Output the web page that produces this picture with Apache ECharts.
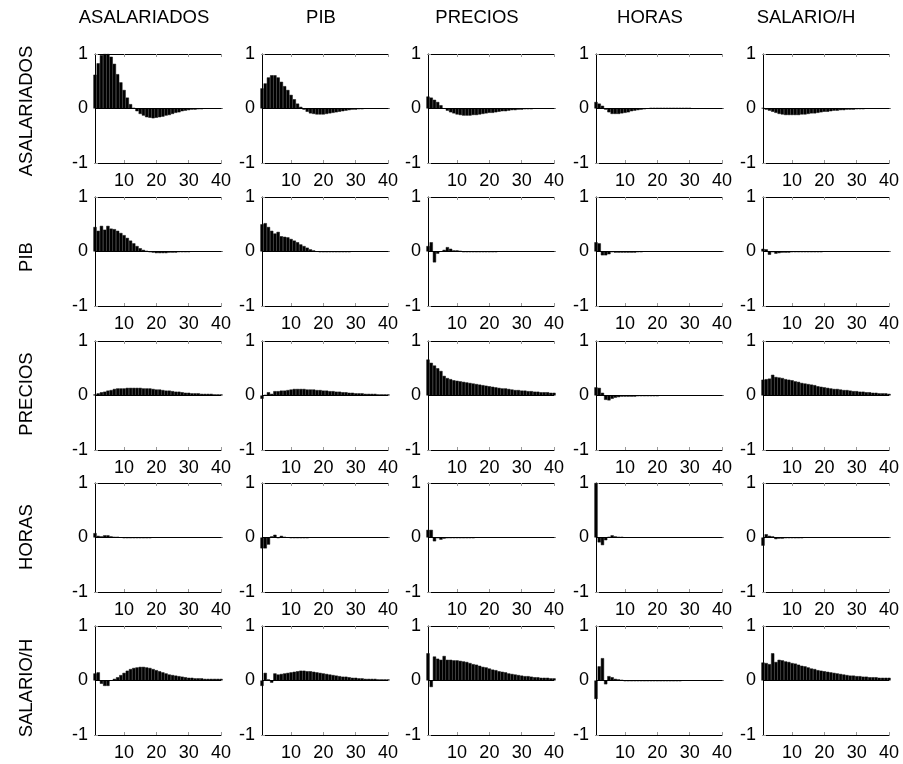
<!DOCTYPE html>
<html>
<head>
<meta charset="utf-8">
<script src="https://cdn.jsdelivr.net/npm/echarts@6/dist/echarts.min.js"></script>
<style>
  html, body { margin: 0; padding: 0; background: #fff; }
  #chart { width: 903px; height: 764px; }
</style>
</head>
<body>
<div id="chart"></div>
<script>
// * 5x5 impulse responses (rows = response, columns = shock)

const variables = ['ASALARIADOS', 'PIB', 'PRECIOS', 'HORAS', 'SALARIO/H']
const xTicks = [10, 20, 30, 40]
const yTicks = [-1, 0, 1]

// ? fila ASALARIADOS
const asal_asal = [0.62,0.83,0.98,1.0,1.0,0.95,0.82,0.63,0.48,0.34,0.2,0.08,0.01,-0.05,-0.1,-0.13,-0.16,-0.17,-0.18,-0.17,-0.16,-0.15,-0.13,-0.12,-0.1,-0.08,-0.07,-0.05,-0.04,-0.03,-0.02,-0.02,-0.01,-0.01,0,0,0,0,0,0]
const asal_pib = [0.37,0.46,0.57,0.61,0.61,0.57,0.49,0.41,0.34,0.25,0.17,0.09,0.03,-0.02,-0.06,-0.09,-0.1,-0.11,-0.11,-0.11,-0.1,-0.09,-0.08,-0.07,-0.06,-0.05,-0.04,-0.03,-0.02,-0.02,-0.01,-0.01,0,0,0,0,0,0,0,0]
const asal_prec = [0.22,0.2,0.16,0.12,0.06,0.0,-0.04,-0.07,-0.09,-0.11,-0.12,-0.13,-0.13,-0.13,-0.12,-0.12,-0.11,-0.1,-0.09,-0.08,-0.08,-0.07,-0.06,-0.05,-0.05,-0.04,-0.03,-0.03,-0.02,-0.02,-0.01,-0.01,-0.01,0,0,0,0,0,0,0]
const asal_hor = [0.12,0.09,0.05,-0.02,-0.07,-0.1,-0.1,-0.1,-0.09,-0.08,-0.07,-0.05,-0.04,-0.03,-0.02,-0.01,0,0.01,0.01,0.01,0.01,0.01,0.01,0.01,0.01,0.01,0.01,0.01,0.01,0.01,0,0,0,0,0,0,0,0,0,0]
const asal_sal = [0.01,-0.02,-0.04,-0.06,-0.08,-0.1,-0.11,-0.12,-0.12,-0.12,-0.12,-0.12,-0.11,-0.11,-0.1,-0.09,-0.09,-0.08,-0.07,-0.06,-0.06,-0.05,-0.04,-0.04,-0.03,-0.03,-0.02,-0.02,-0.02,-0.01,-0.01,-0.01,0,0,0,0,0,0,0,0]

// ? fila PIB
const pib_asal = [0.45,0.38,0.47,0.4,0.47,0.42,0.41,0.38,0.34,0.3,0.25,0.2,0.15,0.1,0.06,0.03,0.01,-0.01,-0.02,-0.03,-0.03,-0.03,-0.03,-0.02,-0.02,-0.02,-0.01,-0.01,-0.01,-0.01,0,0,0,0,0,0,0,0,0,0]
const pib_pib = [0.5,0.52,0.45,0.38,0.33,0.36,0.28,0.27,0.26,0.23,0.2,0.17,0.13,0.1,0.07,0.04,0.02,0,-0.01,-0.01,-0.01,-0.01,-0.01,-0.01,-0.01,-0.01,-0.01,-0.01,0,0,0,0,0,0,0,0,0,0,0,0]
const pib_prec = [0.1,0.17,-0.2,-0.04,0.0,0.03,0.08,0.05,0.02,0.02,0.01,-0.01,-0.01,-0.01,-0.01,-0.01,-0.01,-0.01,-0.01,-0.01,-0.01,-0.01,0,0,0,0,0,0,0,0,0,0,0,0,0,0,0,0,0,0]
const pib_hor = [0.17,0.15,-0.07,-0.07,-0.05,-0.01,-0.02,-0.02,-0.02,-0.02,-0.02,-0.02,-0.02,-0.01,-0.01,0,0,0,0,0,0,0,0,0,0,0,0,0,0,0,0,0,0,0,0,0,0,0,0,0]
const pib_sal = [0.05,0.04,-0.06,-0.01,-0.04,-0.03,-0.02,-0.02,-0.02,-0.01,-0.01,-0.01,-0.01,-0.01,-0.01,-0.01,-0.01,-0.01,-0.01,0,0,0,0,0,0,0,0,0,0,0,0,0,0,0,0,0,0,0,0,0]

// ? fila PRECIOS
const prec_asal = [0.02,0.04,0.06,0.07,0.09,0.1,0.12,0.13,0.13,0.13,0.14,0.14,0.14,0.14,0.14,0.13,0.13,0.13,0.12,0.11,0.11,0.1,0.09,0.09,0.08,0.07,0.07,0.06,0.05,0.05,0.04,0.04,0.04,0.03,0.03,0.03,0.03,0.02,0.02,0.02]
const prec_pib = [-0.06,0.01,0.06,0.03,0.08,0.08,0.09,0.09,0.1,0.11,0.12,0.12,0.12,0.12,0.11,0.11,0.11,0.1,0.1,0.09,0.09,0.08,0.08,0.07,0.07,0.06,0.06,0.05,0.05,0.04,0.04,0.04,0.03,0.03,0.03,0.03,0.02,0.02,0.02,0.02]
const prec_prec = [0.66,0.6,0.55,0.5,0.45,0.36,0.32,0.3,0.28,0.27,0.26,0.25,0.24,0.23,0.22,0.21,0.2,0.19,0.18,0.17,0.16,0.15,0.14,0.13,0.13,0.12,0.11,0.1,0.1,0.09,0.09,0.08,0.08,0.07,0.07,0.06,0.06,0.06,0.05,0.05]
const prec_hor = [0.15,0.14,0.05,-0.08,-0.09,-0.06,-0.04,-0.03,-0.02,-0.02,-0.02,-0.02,-0.02,-0.01,-0.01,-0.01,-0.01,-0.01,-0.01,-0.01,0,0,0,0,0,0,0,0,0,0,0,0,0,0,0,0,0,0,0,0]
const prec_sal = [0.29,0.3,0.31,0.38,0.34,0.33,0.32,0.3,0.29,0.28,0.26,0.25,0.23,0.22,0.21,0.2,0.19,0.17,0.16,0.15,0.14,0.13,0.12,0.12,0.11,0.1,0.1,0.09,0.08,0.08,0.07,0.07,0.06,0.06,0.05,0.05,0.04,0.04,0.04,0.03]

// ? fila HORAS
const hor_asal = [0.08,0.03,0.02,0.04,0.04,0.02,0.01,0.01,0,-0.01,-0.01,-0.01,-0.01,-0.01,-0.01,-0.01,-0.01,-0.01,0,0,0,0,0,0,0,0,0,0,0,0,0,0,0,0,0,0,0,0,0,0]
const hor_pib = [-0.2,-0.2,-0.13,0.02,0.05,-0.01,0.03,0.01,0,-0.01,-0.01,-0.01,-0.01,-0.01,-0.01,0,0,0,0,0,0,0,0,0,0,0,0,0,0,0,0,0,0,0,0,0,0,0,0,0]
const hor_prec = [0.14,0.14,-0.07,-0.01,-0.04,-0.02,-0.01,-0.01,-0.01,-0.01,-0.01,-0.01,-0.01,-0.01,-0.01,0,0,0,0,0,0,0,0,0,0,0,0,0,0,0,0,0,0,0,0,0,0,0,0,0]
const hor_hor = [1.0,-0.09,-0.14,-0.05,0.01,0.04,0.02,0.01,0.01,0,0,0,0,0,0,0,0,0,0,0,0,0,0,0,0,0,0,0,0,0,0,0,0,0,0,0,0,0,0,0]
const hor_sal = [-0.15,0.06,0.03,0.02,-0.03,-0.02,-0.02,-0.01,-0.01,-0.01,-0.01,-0.01,-0.01,0,0,0,0,0,0,0,0,0,0,0,0,0,0,0,0,0,0,0,0,0,0,0,0,0,0,0]

// ? fila SALARIO/H
const sal_asal = [0.13,0.15,-0.06,-0.1,-0.1,0.0,0.03,0.06,0.1,0.14,0.18,0.21,0.23,0.24,0.25,0.25,0.24,0.23,0.21,0.19,0.17,0.15,0.13,0.11,0.1,0.09,0.08,0.07,0.06,0.05,0.05,0.04,0.04,0.04,0.03,0.03,0.03,0.03,0.03,0.03]
const sal_pib = [-0.1,0.14,0.02,-0.04,0.13,0.11,0.12,0.13,0.14,0.15,0.16,0.17,0.18,0.18,0.17,0.17,0.16,0.15,0.14,0.13,0.12,0.11,0.1,0.09,0.08,0.07,0.07,0.06,0.05,0.05,0.04,0.04,0.03,0.03,0.03,0.03,0.02,0.02,0.02,0.02]
const sal_prec = [0.5,-0.12,0.44,0.4,0.38,0.45,0.38,0.38,0.37,0.37,0.36,0.35,0.34,0.32,0.3,0.29,0.27,0.25,0.24,0.22,0.2,0.19,0.17,0.16,0.15,0.13,0.12,0.11,0.1,0.09,0.08,0.08,0.07,0.06,0.06,0.05,0.05,0.05,0.04,0.04]
const sal_hor = [-0.34,0.26,0.41,-0.07,0.08,0.06,0.03,0.02,0.01,-0.01,-0.01,-0.01,-0.01,-0.01,-0.01,-0.01,-0.01,-0.01,-0.01,-0.01,-0.01,-0.01,-0.01,-0.01,-0.01,-0.01,-0.01,0,0,0,0,0,0,0,0,0,0,0,0,0]
const sal_sal = [0.33,0.32,0.3,0.5,0.34,0.38,0.37,0.35,0.34,0.32,0.31,0.29,0.27,0.26,0.24,0.22,0.21,0.19,0.18,0.17,0.16,0.15,0.14,0.13,0.12,0.11,0.1,0.09,0.09,0.08,0.08,0.07,0.07,0.06,0.06,0.06,0.05,0.05,0.05,0.05]

const responses = [
  [asal_asal, asal_pib, asal_prec, asal_hor, asal_sal],
  [pib_asal, pib_pib, pib_prec, pib_hor, pib_sal],
  [prec_asal, prec_pib, prec_prec, prec_hor, prec_sal],
  [hor_asal, hor_pib, hor_prec, hor_hor, hor_sal],
  [sal_asal, sal_pib, sal_prec, sal_hor, sal_sal]
]

// layout of the panels (px)
const colLeft = [95, 262, 428, 596, 763]
const rowTop = [54, 197, 341, 483, 626]
const panelW = 126
const panelH = 109
const titleX = [144, 321, 477, 650, 806]
const rowLabelY = [111, 257, 394, 537, 688]
const font = '"Liberation Sans", Arial, sans-serif'

const chart = echarts.init(document.getElementById('chart'))

const grid = []
const xAxis = []
const yAxis = []
const series = []

responses.forEach((row, i) => {
  row.forEach((values, j) => {
    const n = grid.length
    grid.push({ left: colLeft[j], top: rowTop[i], width: panelW, height: panelH, containLabel: false })
    // bottom axis with labels
    xAxis.push({
      gridIndex: n, type: 'value', min: 1, max: 40, position: 'bottom',
      axisLine: { show: true, onZero: false, lineStyle: { color: '#000', width: 1 } },
      axisTick: { show: true, inside: true, length: 3, customValues: xTicks, lineStyle: { color: '#999' } },
      axisLabel: { customValues: xTicks, fontSize: 18, color: '#000', margin: 9, fontFamily: font },
      splitLine: { show: false }
    })
    // top axis, just the box line
    xAxis.push({
      gridIndex: n, type: 'value', min: 1, max: 40, position: 'top',
      axisLine: { show: true, onZero: false, lineStyle: { color: '#000', width: 1 } },
      axisTick: { show: true, inside: true, length: 3, customValues: xTicks, lineStyle: { color: '#999' } },
      axisLabel: { show: false },
      splitLine: { show: false }
    })
    yAxis.push({
      gridIndex: n, type: 'value', min: -1, max: 1, interval: 1,
      axisLine: { show: true, lineStyle: { color: '#000', width: 1 } },
      axisTick: { show: true, inside: true, length: 3, lineStyle: { color: '#999' } },
      axisLabel: { customValues: yTicks, fontSize: 18, color: '#000', margin: 7, fontFamily: font },
      splitLine: { show: false }
    })
    series.push({
      type: 'bar',
      xAxisIndex: 2 * n,
      yAxisIndex: n,
      data: values.map((v, k) => [k + 1, v]),
      barWidth: '100%',
      itemStyle: { color: '#000', borderColor: '#111', borderWidth: 0.5 },
      markLine: {
        silent: true,
        symbol: 'none',
        label: { show: false },
        lineStyle: { color: '#000', width: 1, type: 'solid' },
        data: [{ yAxis: 0 }]
      }
    })
  })
})

const graphic = []
variables.forEach((name, j) => {
  graphic.push({
    type: 'text', x: titleX[j], y: 18,
    style: { text: name, fill: '#000', font: '18.5px ' + font, textAlign: 'center', textVerticalAlign: 'middle' }
  })
})
variables.forEach((name, i) => {
  graphic.push({
    type: 'text', x: 27, y: rowLabelY[i], rotation: Math.PI / 2,
    style: { text: name, fill: '#000', font: '18.5px ' + font, textAlign: 'center', textVerticalAlign: 'middle' }
  })
})

chart.setOption({
  animation: false,
  backgroundColor: '#fff',
  grid,
  xAxis,
  yAxis,
  series,
  graphic
})
</script>
</body>
</html>
